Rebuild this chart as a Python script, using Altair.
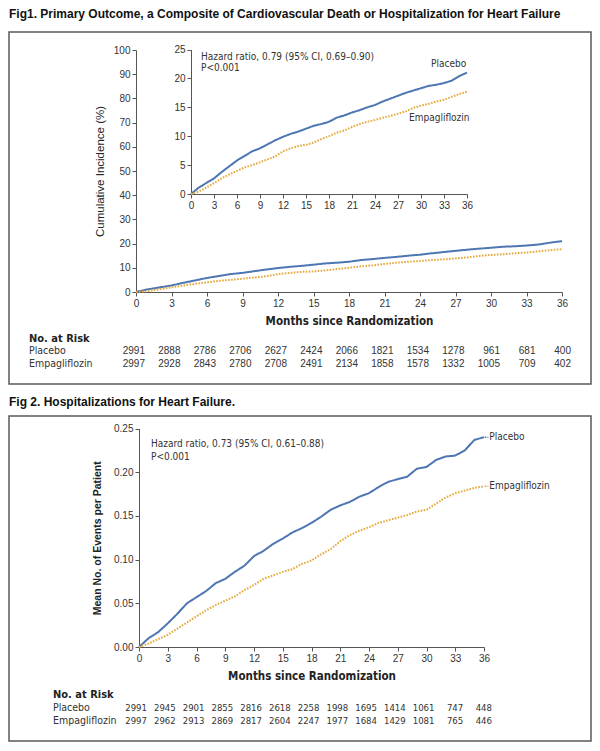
import altair as alt
import pandas as pd

# ---------------- data ----------------
months = list(range(0, 37))
series_names = ["Placebo", "Empagliflozin"]

# Fig 1: cumulative incidence (%) of CV death or HF hospitalization
fig1_placebo = [0, 1.1, 1.9, 2.7, 3.8, 4.8, 5.8, 6.6, 7.4, 7.9, 8.6, 9.3, 9.9,
                10.4, 10.8, 11.3, 11.8, 12.1, 12.5, 13.2, 13.6, 14.1, 14.5, 15.0,
                15.4, 16.0, 16.5, 17.0, 17.5, 17.9, 18.3, 18.7, 18.9, 19.2, 19.6,
                20.4, 21.0]
fig1_empa = [0, 0.4, 1.1, 1.9, 2.7, 3.4, 4.0, 4.6, 5.0, 5.5, 6.0, 6.5, 7.4,
             7.9, 8.3, 8.5, 8.9, 9.5, 10.0, 10.6, 11.0, 11.6, 12.1, 12.5, 12.8,
             13.2, 13.5, 13.9, 14.3, 14.9, 15.3, 15.6, 16.0, 16.3, 16.8, 17.3, 17.7]

# Fig 2: mean number of HF hospitalizations per patient
fig2_placebo = [0, 0.010, 0.017, 0.027, 0.038, 0.050, 0.057, 0.064, 0.073, 0.078,
                0.086, 0.093, 0.104, 0.110, 0.118, 0.124, 0.131, 0.136, 0.142,
                0.149, 0.157, 0.162, 0.166, 0.172, 0.176, 0.183, 0.189, 0.192,
                0.195, 0.204, 0.206, 0.214, 0.218, 0.219, 0.225, 0.237, 0.240]
fig2_empa = [0, 0.004, 0.009, 0.014, 0.021, 0.028, 0.035, 0.042, 0.048, 0.053,
             0.058, 0.065, 0.071, 0.078, 0.082, 0.086, 0.089, 0.095, 0.099,
             0.106, 0.112, 0.121, 0.128, 0.133, 0.137, 0.142, 0.145, 0.148,
             0.151, 0.155, 0.157, 0.164, 0.171, 0.176, 0.179, 0.182, 0.184]

risk_months = list(range(0, 37, 3))
fig1_risk_placebo = ["2991", "2888", "2786", "2706", "2627", "2424", "2066",
                     "1821", "1534", "1278", "961", "681", "400"]
fig1_risk_empa = ["2997", "2928", "2843", "2780", "2708", "2491", "2134",
                  "1858", "1578", "1332", "1005", "709", "402"]
fig2_risk_placebo = ["2991", "2945", "2901", "2855", "2816", "2618", "2258",
                     "1998", "1695", "1414", "1061", "747", "448"]
fig2_risk_empa = ["2997", "2962", "2913", "2869", "2817", "2604", "2247",
                  "1977", "1684", "1429", "1081", "765", "446"]

x_ticks = list(range(0, 37, 3))
fig1_main_yticks = list(range(0, 101, 10))
fig1_inset_yticks = list(range(0, 26, 5))
fig2_yticks = [0, 0.05, 0.10, 0.15, 0.20, 0.25]

# ---------------- style / layout ----------------
BLUE = "#4d76b3"
GOLD = "#e4a93a"
AX = "#555555"
TXT = "#333333"
FONT = "Liberation Sans"
NARROW = "Liberation Sans Narrow, DejaVu Sans Condensed, Liberation Sans"

W, H = 426, 242                       # fig1 main plot area
INSET_X = [55, 331]
INSET_Y = [144, -0.5]
FIG2_X = [3, 348]
FIG2_Y = [597, 378.5]

one = pd.DataFrame({"a": [0]})


def curves_df(p, e):
    return pd.DataFrame({
        "month": months + months,
        "value": p + e,
        "series": ["Placebo"] * len(months) + ["Empagliflozin"] * len(months),
    })


def make_axis(values, orient, offset, title=None, fmt=None, pad=6, weight="bold",
              tfont=FONT, tsize=10.5):
    kw = dict(values=values, orient=orient, offset=offset, grid=False,
              domainColor=AX, domainWidth=1, tickColor=AX, tickWidth=1, tickSize=4,
              labelColor=TXT, labelFont=FONT, labelFontSize=10, labelPadding=2,
              labelFlush=False, labelOverlap=False,
              titleFont=tfont, titleFontSize=tsize, titleFontWeight=weight,
              titleColor="#222222", titlePadding=pad, title=title)
    if fmt:
        kw["format"] = fmt
    return alt.Axis(**kw)


def curve_layer(df, xrange, ydom, yrange, xaxis, yaxis):
    return alt.Chart(df).mark_line(strokeCap="butt", strokeWidth=2).encode(
        x=alt.X("month:Q", scale=alt.Scale(domain=[0, 36], range=xrange, nice=False, zero=False),
                axis=xaxis),
        y=alt.Y("value:Q", scale=alt.Scale(domain=ydom, range=yrange, nice=False),
                axis=yaxis),
        color=alt.Color("series:N", scale=alt.Scale(domain=series_names, range=[BLUE, GOLD]),
                        legend=None),
        strokeDash=alt.StrokeDash("series:N",
                                  scale=alt.Scale(domain=series_names, range=[[1, 0], [1.6, 1.4]]),
                                  legend=None),
    )


def label(text, x, y, size=10, weight="normal", align="left", font=FONT, color=TXT):
    return alt.Chart(one).mark_text(text=text, align=align, baseline="middle", fontSize=size,
                                    fontWeight=weight, font=font, color=color).encode(
        x=alt.value(x), y=alt.value(y))


def frame(x1, x2, y1, y2):
    return alt.Chart(one).mark_rect(filled=False, stroke="#5a5a5a", strokeWidth=1.5).encode(
        x=alt.value(x1), x2=alt.value(x2), y=alt.value(y1), y2=alt.value(y2))


def risk_row(values, xrange, y, dx, font, size=10):
    df = pd.DataFrame({"month": risk_months, "n": values})
    return alt.Chart(df).mark_text(align="right", baseline="middle", dx=dx, fontSize=size,
                                   font=font, color=TXT).encode(
        x=alt.X("month:Q", scale=alt.Scale(domain=[0, 36], range=xrange, nice=False), axis=None),
        y=alt.value(y),
        text="n:N",
    )


# ---------------- Fig 1 ----------------
fig1_main = curve_layer(
    curves_df(fig1_placebo, fig1_empa), [0, W], [0, 100], [H, 0],
    make_axis(x_ticks, "bottom", 0, "Months since Randomization", pad=7,
              tfont=NARROW, tsize=11.5),
    make_axis(fig1_main_yticks, "left", 0, "Cumulative Incidence (%)", pad=8, weight="normal",
              tsize=11.5),
)
fig1_inset = curve_layer(
    curves_df(fig1_placebo, fig1_empa), INSET_X, [0, 25], INSET_Y,
    make_axis(x_ticks, "bottom", INSET_Y[0] - H),
    make_axis(fig1_inset_yticks, "left", -INSET_X[0]),
)

# ---------------- Fig 2 ----------------
fig2_df = curves_df(fig2_placebo, fig2_empa)
fig2_curves = curve_layer(
    fig2_df, FIG2_X, [0, 0.25], FIG2_Y,
    make_axis(x_ticks, "bottom", FIG2_Y[0] - H, "Months since Randomization", pad=7,
              tfont=NARROW, tsize=11.5),
    make_axis(fig2_yticks, "left", -FIG2_X[0], "Mean No. of Events per Patient", fmt=".2f", pad=11),
)

end_df = pd.DataFrame({
    "series": series_names,
    "month": [months[-1] + 0.08, months[-1] + 0.08],
    "month2": [months[-1] + 0.45, months[-1] + 0.45],
    "lab": [months[-1] + 0.55, months[-1] + 0.55],
    "value": [fig2_placebo[-1], fig2_empa[-1]],
})
fig2_x_scale = alt.Scale(domain=[0, 36], range=FIG2_X, nice=False, zero=False)
fig2_y_scale = alt.Scale(domain=[0, 0.25], range=FIG2_Y, nice=False)
fig2_connect = alt.Chart(end_df).mark_rule(strokeWidth=1.5, strokeDash=[1.5, 1.2]).encode(
    x=alt.X("month:Q", scale=fig2_x_scale, axis=None),
    x2="month2:Q",
    y=alt.Y("value:Q", scale=fig2_y_scale, axis=None),
    color=alt.Color("series:N", scale=alt.Scale(domain=series_names, range=[BLUE, GOLD]),
                    legend=None),
)
fig2_labels = alt.Chart(end_df).mark_text(align="left", baseline="middle", fontSize=10,
                                          font=NARROW, color=TXT).encode(
    x=alt.X("lab:Q", scale=fig2_x_scale, axis=None),
    y=alt.Y("value:Q", scale=fig2_y_scale, axis=None),
    text="series:N",
)

layers = [
    frame(-127, 455, -18, 334),
    frame(-127, 455, 366, 691),
    label("Fig1. Primary Outcome, a Composite of Cardiovascular Death or Hospitalization for Heart Failure",
          -127, -36, size=12, weight="bold", color="#111111"),
    label("Fig 2. Hospitalizations for Heart Failure.", -127, 351.5, size=12, weight="bold",
          color="#111111"),
    fig1_main,
    fig1_inset,
    label("Hazard ratio, 0.79 (95% CI, 0.69\u20130.90)", 65, 6.5, font=NARROW),
    label("P<0.001", 65, 17.5, font=NARROW),
    label("Placebo", 295, 14, font=NARROW),
    label("Empagliflozin", 273, 68, font=NARROW),
    label("No. at Risk", -107, 288.5, size=11, weight="bold", font=NARROW, color="#222222"),
    label("Placebo", -107, 301, size=10.5, font=NARROW),
    label("Empagliflozin", -107, 314, size=10.5, font=NARROW),
    risk_row(fig1_risk_placebo, [0, W], 301, 9, FONT),
    risk_row(fig1_risk_empa, [0, W], 314, 9, FONT),
    fig2_curves,
    fig2_connect,
    fig2_labels,
    label("Hazard ratio, 0.73 (95% CI, 0.61\u20130.88)", 15, 394, font=NARROW),
    label("P<0.001", 15, 407, font=NARROW),
    label("No. at Risk", -83, 645, size=11, weight="bold", font=NARROW, color="#222222"),
    label("Placebo", -83, 657.5, size=10.5, font=NARROW),
    label("Empagliflozin", -83, 670.5, size=10.5, font=NARROW),
    risk_row(fig2_risk_placebo, FIG2_X, 657.5, 8, NARROW, 9.5),
    risk_row(fig2_risk_empa, FIG2_X, 670.5, 8, NARROW, 9.5),
]

chart = alt.layer(*layers).resolve_scale(
    x="independent", y="independent"
).properties(
    width=W, height=H, padding=0, background="white"
).configure_view(strokeWidth=0)

chart.save("out.html", embed_options={"renderer": "svg", "actions": False})
